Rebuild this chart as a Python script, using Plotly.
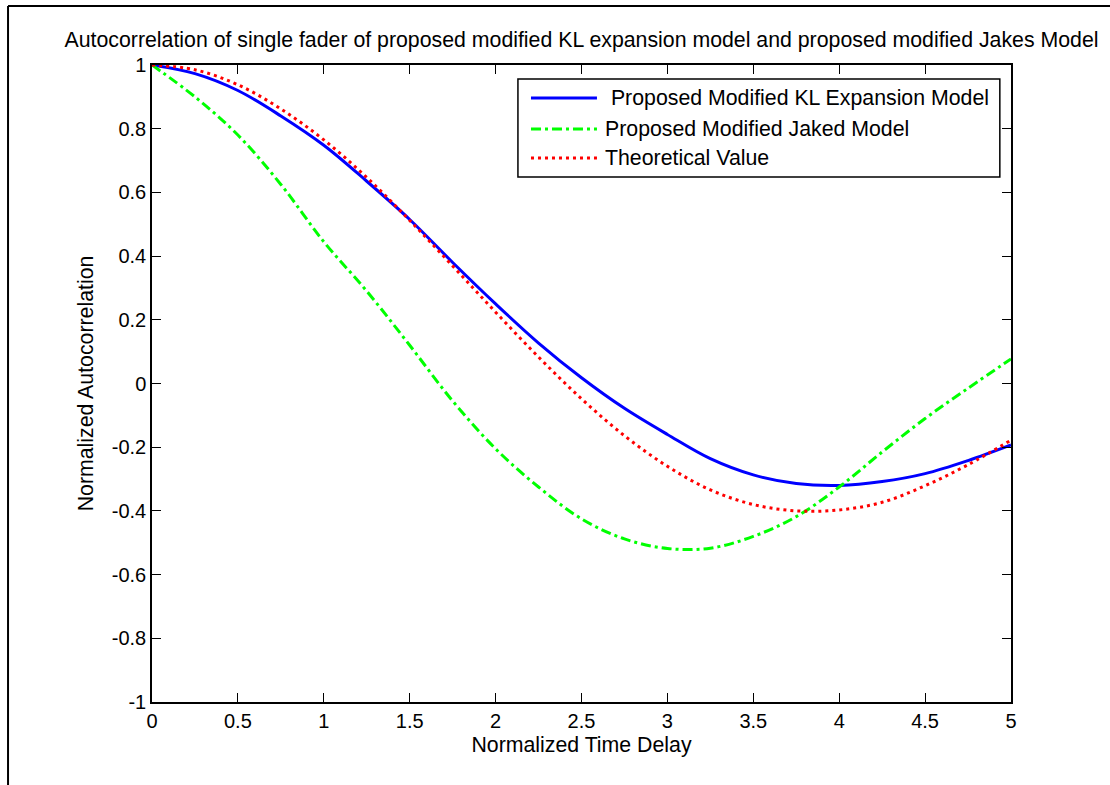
import plotly.graph_objects as go

# Normalized time delay samples
delay = [0.0, 0.25, 0.5, 0.75, 1.0, 1.25, 1.5, 1.75, 2.0, 2.25, 2.5,
         2.75, 3.0, 3.25, 3.5, 3.75, 4.0, 4.25, 4.5, 4.75, 5.0]

# Autocorrelation of the single fader for each model
kl_model = [1.000, 0.973, 0.920, 0.840, 0.748, 0.635, 0.515, 0.380, 0.250, 0.127, 0.018,
            -0.078, -0.160, -0.236, -0.287, -0.314, -0.320, -0.308, -0.283, -0.242, -0.193]
jakes_model = [1.000, 0.900, 0.780, 0.625, 0.445, 0.290, 0.120, -0.055, -0.205, -0.325, -0.425,
               -0.488, -0.518, -0.517, -0.480, -0.418, -0.325, -0.215, -0.110, -0.015, 0.077]
theory = [1.000, 0.985, 0.938, 0.862, 0.765, 0.647, 0.512, 0.369, 0.224, 0.083, -0.048,
          -0.164, -0.260, -0.334, -0.380, -0.400, -0.397, -0.373, -0.321, -0.255, -0.178]

series_names = ["\u00a0Proposed Modified KL Expansion Model",
                "Proposed Modified Jaked Model",
                "Theoretical Value"]

x_ticks = [0, 0.5, 1, 1.5, 2, 2.5, 3, 3.5, 4, 4.5, 5]
x_tick_labels = ["0", "0.5", "1", "1.5", "2", "2.5", "3", "3.5", "4", "4.5", "5"]
y_ticks = [-1, -0.8, -0.6, -0.4, -0.2, 0, 0.2, 0.4, 0.6, 0.8, 1]
y_tick_labels = ["-1", "-0.8", "-0.6", "-0.4", "-0.2", "0", "0.2", "0.4", "0.6", "0.8", "1"]

FONT = "Liberation Sans, Arial, Helvetica, sans-serif"
line_styles = [
    dict(color="#0000ff", width=3),
    dict(color="#00ff00", width=3, dash="10px,4px,3px,4px"),
    dict(color="#ff0000", width=3, dash="3px,4px"),
]

fig = go.Figure()
for name, values, style in zip(series_names, [kl_model, jakes_model, theory], line_styles):
    fig.add_trace(go.Scatter(x=delay, y=values, mode="lines", name=name,
                             line=dict(shape="spline", **style), showlegend=False))

# MATLAB-style boxed legend in the upper right corner
shapes = [dict(type="rect", xref="paper", yref="paper", x0=0.426, x1=0.987, y0=0.824, y1=0.978,
               line=dict(color="black", width=1.5), fillcolor="white", layer="above")]
annotations = []
row_y = [0.948, 0.8995, 0.854]
for name, style, yy in zip(series_names, line_styles, row_y):
    shapes.append(dict(type="line", xref="paper", yref="paper", x0=0.4412, x1=0.518, y0=yy, y1=yy,
                       line=style, layer="above"))
    annotations.append(dict(xref="paper", yref="paper", x=0.5255, y=yy, text=name, showarrow=False,
                            xanchor="left", yanchor="middle", font=dict(size=21.3, color="black", family=FONT)))

# outer figure frame (top and left edges)
shapes.append(dict(type="line", xref="paper", yref="paper", x0=-0.1676, x1=1.12, y0=1.0926, y1=1.0926,
                   line=dict(color="black", width=2)))
shapes.append(dict(type="line", xref="paper", yref="paper", x0=-0.1676, x1=-0.1676, y0=1.0926, y1=-0.14,
                   line=dict(color="black", width=2)))

axis_common = dict(showline=True, linecolor="black", linewidth=1.5, mirror="ticks", ticks="inside",
                   ticklen=9, tickcolor="black", tickwidth=1, showgrid=False, zeroline=False,
                   tickfont=dict(size=20, color="black", family=FONT))

fig.update_layout(
    width=1110, height=785,
    margin=dict(l=152, r=99, t=65, b=83),
    paper_bgcolor="white", plot_bgcolor="white",
    font=dict(family=FONT, color="black"),
    title=dict(text="Autocorrelation of single fader of proposed modified KL expansion model and proposed modified Jakes Model",
               xref="paper", x=0.5, xanchor="center", yref="container", y=1 - 40 / 785, yanchor="middle",
               font=dict(size=21.3, color="black", family=FONT)),
    xaxis=dict(range=[0, 5], tickvals=x_ticks, ticktext=x_tick_labels,
               title=dict(text="Normalized Time Delay", font=dict(size=21.3, color="black", family=FONT), standoff=6),
               **axis_common),
    yaxis=dict(range=[-1, 1], tickvals=y_ticks, ticktext=y_tick_labels,
               title=dict(text="Normalized Autocorrelation", font=dict(size=21.3, color="black", family=FONT), standoff=12),
               **axis_common),
    shapes=shapes,
    annotations=annotations,
)

fig.write_html("out.html")
